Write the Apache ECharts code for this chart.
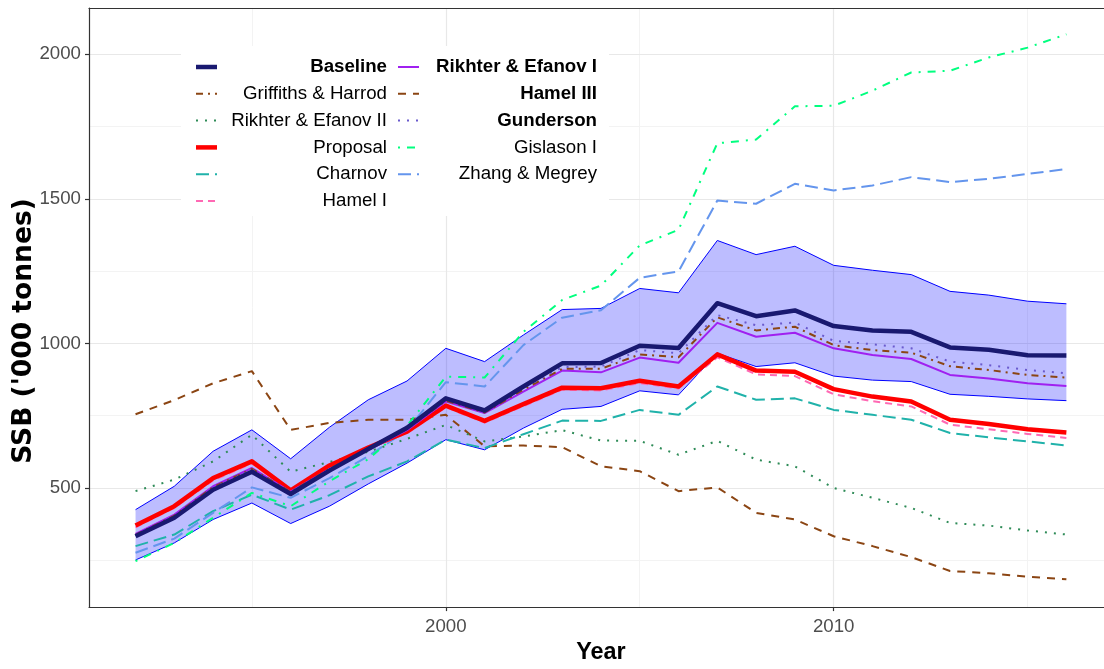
<!DOCTYPE html>
<html>
<head>
<meta charset="utf-8">
<script src="https://cdn.jsdelivr.net/npm/echarts@6/dist/echarts.min.js"></script>
<style>
  html, body { margin: 0; padding: 0; background: #fff; }
  #main { width: 1104px; height: 669px; }
</style>
</head>
<body>
<div id="main"></div>
<script>
// years on the x axis
const years = [1992, 1993, 1994, 1995, 1996, 1997, 1998, 1999, 2000, 2001, 2002, 2003, 2004,
  2005, 2006, 2007, 2008, 2009, 2010, 2011, 2012, 2013, 2014, 2015, 2016];

// SSB ('000 tonnes) per model
const baseline   = [333, 397, 494, 556, 479, 560, 635, 708, 810, 768, 851, 931, 932, 992, 984, 1139, 1094, 1114, 1060, 1045, 1040, 986, 978, 959, 958];
const proposal   = [370, 437, 534, 592, 492, 578, 640, 695, 785, 732, 790, 847, 845, 871, 851, 962, 906, 902, 842, 816, 799, 736, 721, 703, 692];
const hamelI     = [364, 431, 526, 585, 487, 571, 635, 690, 779, 726, 783, 840, 837, 863, 844, 952, 893, 887, 824, 800, 782, 719, 703, 687, 673];
const rikhterI   = [341, 408, 506, 569, 487, 565, 632, 700, 799, 759, 833, 906, 900, 951, 933, 1071, 1023, 1037, 983, 960, 946, 891, 879, 862, 853];
const gunderson  = [336, 401, 499, 563, 483, 564, 636, 706, 806, 765, 846, 918, 920, 977, 966, 1098, 1063, 1072, 1009, 997, 983, 937, 925, 908, 897];
const griffiths  = [338, 404, 503, 566, 486, 566, 636, 704, 802, 761, 840, 912, 912, 962, 952, 1090, 1045, 1058, 994, 977, 968, 921, 908, 891, 882];
const charnov    = [299, 339, 420, 477, 425, 475, 540, 592, 667, 638, 686, 733, 732, 770, 753, 851, 805, 810, 770, 753, 736, 690, 675, 661, 647];
const zhang      = [276, 325, 414, 502, 466, 534, 610, 700, 866, 851, 994, 1089, 1115, 1227, 1249, 1494, 1483, 1552, 1529, 1546, 1575, 1558, 1569, 1586, 1603];
const gislason   = [247, 310, 397, 483, 437, 523, 600, 715, 885, 882, 1040, 1150, 1200, 1339, 1393, 1692, 1705, 1820, 1822, 1874, 1937, 1943, 1989, 2023, 2069];
const rikhterII  = [489, 529, 592, 684, 556, 590, 625, 670, 718, 661, 678, 700, 664, 663, 615, 663, 598, 575, 500, 466, 431, 379, 370, 353, 339];
const hamelIII   = [755, 804, 862, 904, 701, 725, 736, 736, 753, 644, 647, 641, 575, 558, 489, 502, 414, 391, 333, 299, 261, 213, 205, 193, 184];
// confidence band around the baseline
const bandUpper  = [425, 506, 627, 701, 601, 710, 805, 870, 983, 937, 1029, 1117, 1121, 1190, 1175, 1356, 1307, 1336, 1270, 1253, 1238, 1180, 1167, 1146, 1137];
const bandLower  = [251, 310, 391, 448, 377, 437, 514, 586, 667, 632, 707, 772, 782, 836, 822, 966, 920, 933, 887, 873, 868, 824, 817, 808, 802];

// axis ticks / grid lines
const xTicks = [2000, 2010];
const xMinor = [1995, 2005, 2015];
const yTicks = [500, 1000, 1500, 2000];
const yMinor = [250, 750, 1250, 1750];

// line looks, shared by plot and legend
const sty = {
  'Baseline':            { color: '#191970', width: 4.5, dash: null },
  'Griffiths & Harrod':  { color: '#8B4513', width: 2, dash: [7, 5, 2, 5] },
  'Rikhter & Efanov II': { color: '#2E8B57', width: 2, dash: [2, 7] },
  'Proposal':            { color: '#FF0000', width: 4.5, dash: null },
  'Charnov':             { color: '#20B2AA', width: 2, dash: [13, 6] },
  'Hamel I':             { color: '#FF69B4', width: 2, dash: [7, 5] },
  'Rikhter & Efanov I':  { color: '#A020F0', width: 2, dash: null },
  'Hamel III':           { color: '#8B4513', width: 2, dash: [8, 7] },
  'Gunderson':           { color: '#6A5ACD', width: 2, dash: [2, 7] },
  'Gislason I':          { color: '#00FF7F', width: 2, dash: [2, 7, 8, 7] },
  'Zhang & Megrey':      { color: '#6495ED', width: 2, dash: [13, 6] }
};

const FONT = '"Liberation Sans", Arial, sans-serif';
// the panel runs past the right edge of the picture: the visible part ends near 2016.97
const X_MIN = 1990.8, X_MAX = 2016.97;

function pairs(vals) { return years.map((y, i) => [y, vals[i]]); }

function mkLine(name, vals, z) {
  const s = sty[name];
  return {
    name: name, type: 'line', data: pairs(vals), symbol: 'none', showSymbol: false,
    z: z, silent: true,
    lineStyle: { color: s.color, width: s.width, type: s.dash ? s.dash : 'solid', cap: 'butt', join: 'round' }
  };
}

const gridLines = [];
yMinor.forEach(v => gridLines.push({ yAxis: v, lineStyle: { color: '#f3f3f3', width: 1, type: 'solid' } }));
xMinor.forEach(v => gridLines.push({ xAxis: v, lineStyle: { color: '#f3f3f3', width: 1, type: 'solid' } }));
yTicks.forEach(v => gridLines.push({ yAxis: v, lineStyle: { color: '#e8e8e8', width: 1.2, type: 'solid' } }));
xTicks.forEach(v => gridLines.push({ xAxis: v, lineStyle: { color: '#e8e8e8', width: 1.2, type: 'solid' } }));

// legend (ggplot style, two columns, text right aligned)
const legCols = [
  { keyX: 196, textR: 387, items: [['Baseline', true], ['Griffiths & Harrod', false], ['Rikhter & Efanov II', false], ['Proposal', false], ['Charnov', false], ['Hamel I', false]] },
  { keyX: 398, textR: 597, items: [['Rikhter & Efanov I', true], ['Hamel III', true], ['Gunderson', true], ['Gislason I', false], ['Zhang & Megrey', false]] }
];
const legEls = [{ type: 'rect', shape: { x: 181, y: 46, width: 428, height: 170 }, style: { fill: '#fff' }, z: 50 }];
legCols.forEach(col => {
  col.items.forEach((it, i) => {
    const yy = 67 + i * 26.8;
    const s = sty[it[0]];
    legEls.push({
      type: 'line', z: 51,
      shape: { x1: col.keyX, y1: yy, x2: col.keyX + 21, y2: yy },
      style: { stroke: s.color, lineWidth: s.width, lineDash: s.dash || null }
    });
    legEls.push({
      type: 'text', z: 51, x: col.textR, y: yy,
      style: {
        text: it[0], fill: '#000',
        font: (it[1] ? 'bold ' : '') + '18.7px ' + FONT,
        align: 'right', verticalAlign: 'middle', textAlign: 'right', textVerticalAlign: 'middle'
      }
    });
  });
});
// y axis title
legEls.push({
  type: 'text', z: 51, x: 24, y: 331, rotation: Math.PI / 2,
  style: {
    text: "SSB ('000 tonnes)", fill: '#000',
    font: 'bold 26.5px "DejaVu Sans", Verdana, sans-serif',
    align: 'center', verticalAlign: 'middle', textAlign: 'center', textVerticalAlign: 'middle'
  }
});

const borderLine = { show: true, onZero: false, lineStyle: { color: '#333', width: 1.2 } };

const chart = echarts.init(document.getElementById('main'), null, { renderer: 'canvas' });
chart.setOption({
  animation: false,
  backgroundColor: '#fff',
  grid: { left: 89, right: 0, top: 8, bottom: 60, show: false },
  xAxis: [{
    type: 'value', min: X_MIN, max: X_MAX,
    name: 'Year', nameLocation: 'middle', nameGap: 28,
    nameTextStyle: { fontFamily: FONT, fontWeight: 'bold', fontSize: 23.4, color: '#000', padding: [0, 0, 0, 9] },
    axisLine: borderLine,
    splitLine: { show: false },
    axisTick: { show: true, customValues: xTicks, length: 4, lineStyle: { color: '#333', width: 1.2 } },
    axisLabel: { customValues: xTicks, formatter: v => String(v), color: '#4d4d4d', fontSize: 18.7, fontFamily: FONT, margin: 10 }
  }, {
    // top edge of the panel
    type: 'value', position: 'top', min: X_MIN, max: X_MAX,
    axisLine: borderLine, axisTick: { show: false }, axisLabel: { show: false }, splitLine: { show: false }
  }],
  yAxis: {
    type: 'value', min: 88, max: 2160,
    axisLine: borderLine,
    splitLine: { show: false },
    axisTick: { show: true, customValues: yTicks, length: 4, lineStyle: { color: '#333', width: 1.2 } },
    axisLabel: { customValues: yTicks, formatter: v => String(v), color: '#4d4d4d', fontSize: 18.7, fontFamily: FONT, margin: 8 }
  },
  graphic: legEls,
  series: [
    {
      name: 'grid', type: 'line', data: [], z: 0, silent: true,
      markLine: { z: 0, silent: true, symbol: ['none', 'none'], label: { show: false }, animation: false, data: gridLines }
    },
    {
      // shaded band between bandLower and bandUpper
      name: 'band', type: 'custom', z: 1, silent: true,
      data: pairs(bandLower),
      renderItem: function (params, api) {
        if (params.dataIndex !== 0) return null;
        const pts = [];
        for (let i = 0; i < years.length; i++) pts.push(api.coord([years[i], bandLower[i]]));
        for (let i = years.length - 1; i >= 0; i--) pts.push(api.coord([years[i], bandUpper[i]]));
        return { type: 'polygon', shape: { points: pts }, style: { fill: 'rgba(0,0,255,0.26)' } };
      }
    },
    {
      name: 'bandLower', type: 'line', data: pairs(bandLower), symbol: 'none', z: 1, silent: true,
      lineStyle: { color: '#0000FF', width: 1 }
    },
    {
      name: 'bandUpper', type: 'line', data: pairs(bandUpper), symbol: 'none', z: 1, silent: true,
      lineStyle: { color: '#0000FF', width: 1 }
    },
    mkLine('Hamel III', hamelIII, 2),
    mkLine('Rikhter & Efanov II', rikhterII, 2),
    mkLine('Charnov', charnov, 2),
    mkLine('Zhang & Megrey', zhang, 2),
    mkLine('Gislason I', gislason, 2),
    mkLine('Hamel I', hamelI, 3),
    mkLine('Proposal', proposal, 3),
    mkLine('Rikhter & Efanov I', rikhterI, 4),
    mkLine('Griffiths & Harrod', griffiths, 4),
    mkLine('Gunderson', gunderson, 4),
    mkLine('Baseline', baseline, 4)
  ]
});
</script>
</body>
</html>
